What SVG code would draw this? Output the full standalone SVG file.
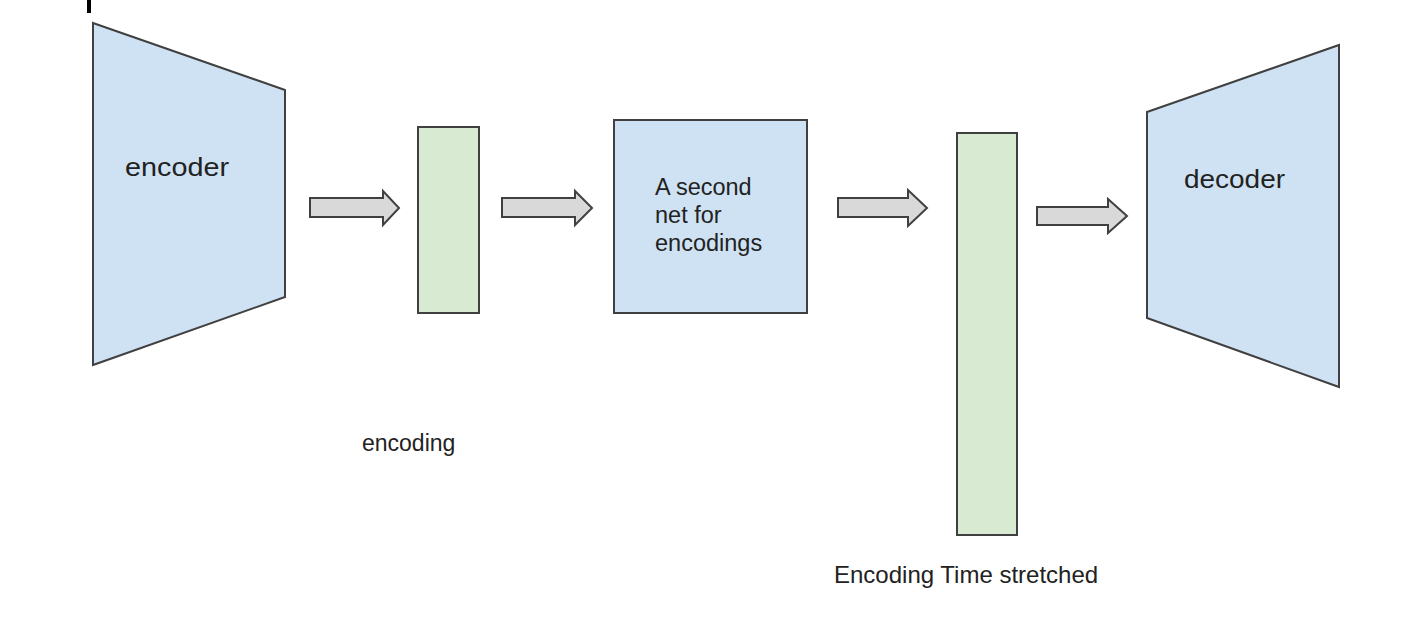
<svg xmlns="http://www.w3.org/2000/svg" width="1414" height="636" viewBox="0 0 1414 636">
<style>
.blue{fill:#cfe2f3;stroke:#404040;stroke-width:2}
.green{fill:#d9ead3;stroke:#404040;stroke-width:2}
.arrow{fill:#d9d9d9;stroke:#404040;stroke-width:2;stroke-linejoin:miter}
.lbl{font-family:"Liberation Sans",Arial,sans-serif;fill:#222}
</style>
<rect width="1414" height="636" fill="#ffffff"/>
<rect x="87" y="0" width="4" height="13" fill="#000"/>
<g id="encoder">
<polygon class="blue" points="93,23 285,90 285,297 93,365"/>
<text class="lbl" x="125" y="176" font-size="26" textLength="104" lengthAdjust="spacingAndGlyphs">encoder</text>
</g>
<g id="encoding">
<rect class="green" x="418" y="127" width="61" height="186"/>
<text class="lbl" x="362" y="451" font-size="23">encoding</text>
</g>
<g id="second-net">
<rect class="blue" x="614" y="120" width="193" height="193"/>
<text class="lbl" font-size="23.5"><tspan x="655" y="195">A second</tspan><tspan x="655" y="223">net for</tspan><tspan x="655" y="251">encodings</tspan></text>
</g>
<g id="stretched">
<rect class="green" x="957" y="133" width="60" height="402"/>
<text class="lbl" x="834" y="583" font-size="24">Encoding Time stretched</text>
</g>
<g id="decoder">
<polygon class="blue" points="1147,112 1339,45 1339,387 1147,318"/>
<text class="lbl" x="1184" y="188" font-size="26" textLength="101" lengthAdjust="spacingAndGlyphs">decoder</text>
</g>
<g id="connectors">
<polygon class="arrow" points="310,198 383,198 383,191 399,208 383,225 383,217 310,217"/>
<polygon class="arrow" points="502,198 575,198 575,191 592,208 575,225 575,217 502,217"/>
<polygon class="arrow" points="838,198 908,198 908,190 927,208 908,226 908,217 838,217"/>
<polygon class="arrow" points="1037,207 1108,207 1108,199 1127,216 1108,233 1108,225 1037,225"/>
</g>
</svg>
